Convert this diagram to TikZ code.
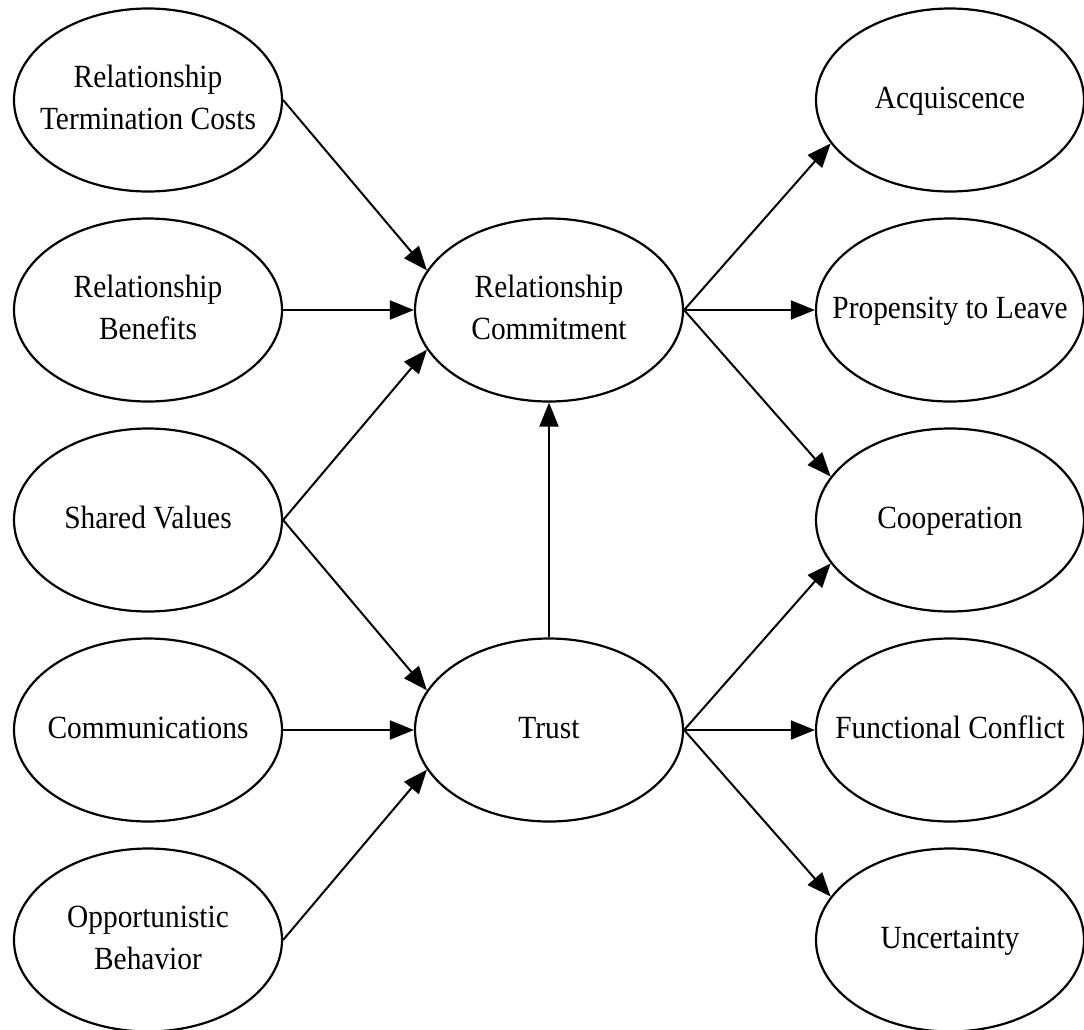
\documentclass[tikz,border=0pt]{standalone}
\usepackage{fontspec}
\setmainfont{Liberation Serif}
\usetikzlibrary{shapes.geometric,arrows.meta}
\newcommand\lbl[1]{\raisebox{-4pt}{\makebox[0pt]{\scalebox{1}[1.1]{\begin{tabular}{@{}c@{}}#1\end{tabular}}}}}
\begin{document}
\begin{tikzpicture}[x=1pt,y=-1pt,
  ell/.style={ellipse, draw, line width=2.2pt, minimum width=268pt, minimum height=183pt,
    inner sep=0pt, font=\fontsize{29.4}{38}\selectfont},
  arr/.style={line width=2pt, -{Triangle[length=24pt,width=19pt]}}]
\fill[white] (0,0) rectangle (1084,1029);
\useasboundingbox (0,0) rectangle (1084,1029);
% left column
\node[ell] (tc) at (148,100) {\lbl{Relationship\\Termination Costs}};
\node[ell] (rb) at (148,310) {\lbl{Relationship\\Benefits}};
\node[ell] (sv) at (148,520) {\lbl{Shared Values}};
\node[ell] (cm) at (148,730) {\lbl{Communications}};
\node[ell] (ob) at (148,940) {\lbl{Opportunistic\\Behavior}};
% middle
\node[ell] (rc) at (549,310) {\lbl{Relationship\\Commitment}};
\node[ell] (tr) at (549,730) {\lbl{Trust}};
% right column
\node[ell] (aq) at (950,100) {\lbl{Acquiscence}};
\node[ell] (pl) at (950,310) {\lbl{Propensity to Leave}};
\node[ell] (co) at (950,520) {\lbl{Cooperation}};
\node[ell] (fc) at (950,730) {\lbl{Functional Conflict}};
\node[ell] (un) at (950,940) {\lbl{Uncertainty}};
% connectors
\draw[arr] (tc.east) -- (rc.162);
\draw[arr] (rb.east) -- (rc.west);
\draw[arr] (sv.east) -- (rc.198);
\draw[arr] (sv.east) -- (tr.162);
\draw[arr] (cm.east) -- (tr.west);
\draw[arr] (ob.east) -- (tr.198);
\draw[arr] (tr.north) -- (rc.south);
\draw[arr] (rc.east) -- (aq.200);
\draw[arr] (rc.east) -- (pl.west);
\draw[arr] (rc.east) -- (co.160);
\draw[arr] (tr.east) -- (co.200);
\draw[arr] (tr.east) -- (fc.west);
\draw[arr] (tr.east) -- (un.160);
\end{tikzpicture}
\end{document}
